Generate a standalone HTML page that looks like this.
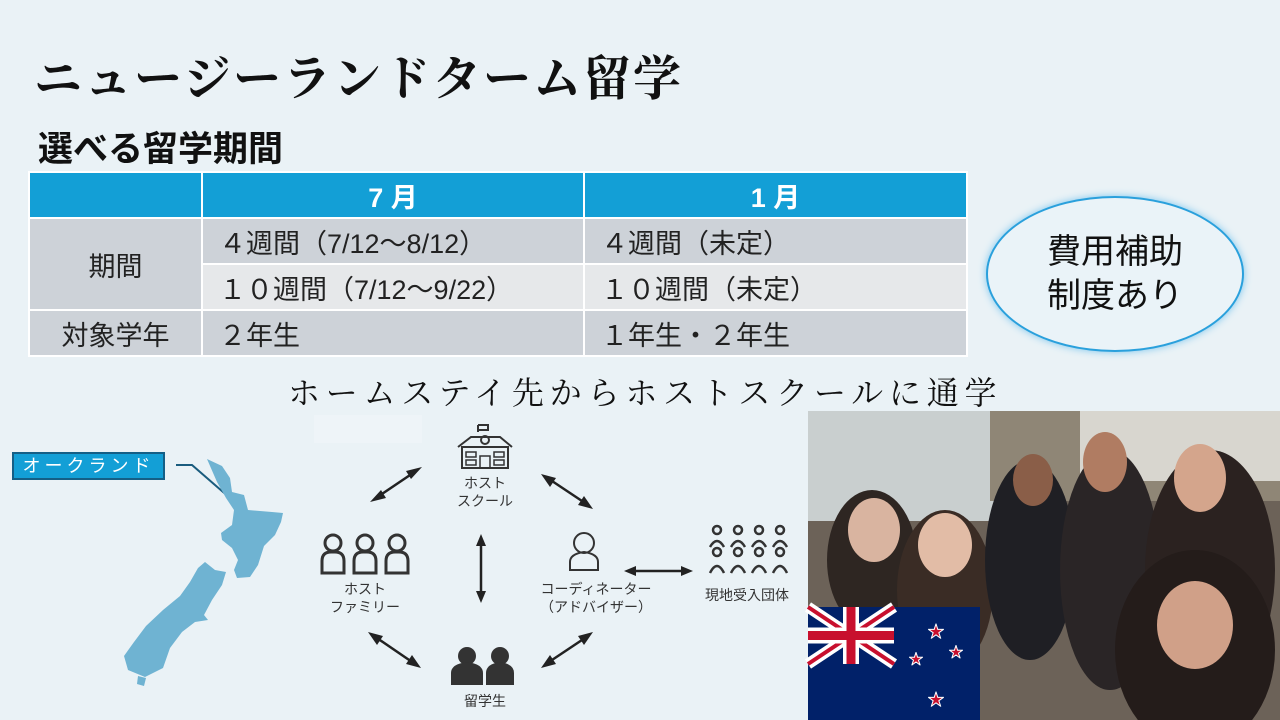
<!DOCTYPE html>
<html><head><meta charset="utf-8"><style>
body{margin:0;width:1280px;height:720px;overflow:hidden;background:#eaf2f6;position:relative;font-family:"Liberation Sans","Noto Sans CJK JP",sans-serif;}
.a{position:absolute}
.serif{font-family:"Liberation Serif","Noto Serif CJK SC",serif}
table{position:absolute;left:28px;top:171px;border-collapse:collapse;font-size:27px;color:#222}
td{border:2px solid #fff;padding:0 0 0 16px;height:44px;background:#cdd2d8;white-space:nowrap}
td.h{background:#139fd6;color:#fff;font-weight:bold;text-align:center;padding:0}
td.l{background:#e6e8ea}
td.c{text-align:center;padding:0}
</style></head><body>
<div class="a serif" style="left:34px;top:40px;font-size:48px;font-weight:bold;color:#111;letter-spacing:2px">ニュージーランドターム留学</div>
<div class="a" style="left:38px;top:121px;font-size:35px;font-weight:bold;color:#111">選べる留学期間</div>
<table>
<tr><td class="h" style="width:171px"></td><td class="h" style="width:380px">7 月</td><td class="h" style="width:381px">1 月</td></tr>
<tr><td class="c" rowspan="2">期間</td><td>４週間（7/12～8/12）</td><td>４週間（未定）</td></tr>
<tr><td class="l">１０週間（7/12～9/22）</td><td class="l">１０週間（未定）</td></tr>
<tr><td class="c">対象学年</td><td>２年生</td><td>１年生・２年生</td></tr>
</table>
<div class="a" style="left:986px;top:196px;width:258px;height:156px;border-radius:50%;border:2px solid #2aa0dc;box-shadow:0 0 8px #7cc6ee;background:#eaf3f8;text-align:center;font-size:34px;line-height:44px;color:#111;box-sizing:border-box;padding-top:32px">費用補助<br>制度あり</div>
<div class="a serif" style="left:288px;top:368px;font-size:32px;color:#111;letter-spacing:5.8px">ホームステイ先からホストスクールに通学</div>
<div class="a" style="left:314px;top:415px;width:108px;height:28px;background:#eef4f8"></div>

<div class="a" style="left:12px;top:452px;width:149px;height:24px;background:#139fd6;border:2px solid #145f86;color:#fff;font-size:18px;line-height:24px;text-align:center;letter-spacing:4px" >オークランド</div>
<svg class="a" style="left:0;top:0" width="1280" height="720">
<polyline points="176,465 192,465 238,505" fill="none" stroke="#1a5c7e" stroke-width="2"/>
<polygon fill="#6fb3d2" points="207,459 222,466 230,478 232,492 244,495 248,510 272,512 283,513 281,522 275,535 264,546 258,565 250,577 237,578 234,570 238,560 232,548 222,540 221,533 232,525 234,510 226,498 217,482"/>
<polygon fill="#6fb3d2" points="205,562 215,570 226,572 222,585 212,600 204,615 208,620 195,622 182,632 170,648 163,668 155,672 145,677 128,670 124,656 134,642 146,626 163,610 180,596 190,582 198,568"/>
<polygon fill="#6fb3d2" points="138,676 146,678 144,686 137,684"/>
<g fill="none" stroke="#333" stroke-width="2">
<rect x="462" y="447" width="46" height="21"/><path d="M458 447 L471 437 H500 L512 447 M478 432 V425 M478 425 h10 v5 h-10"/><circle cx="485" cy="440" r="4"/>
<g stroke-width="1.5"><rect x="466" y="452" width="10" height="5"/><rect x="466" y="460" width="10" height="5"/><rect x="494" y="452" width="10" height="5"/><rect x="494" y="460" width="10" height="5"/><rect x="480" y="456" width="10" height="12"/></g>
<g stroke-width="3"><path d="M322 573 v-12 q0-9 9-9 h4 q9 0 9 9 v12z"/><circle cx="333" cy="543" r="8"/><path d="M354 573 v-12 q0-9 9-9 h4 q9 0 9 9 v12z"/><circle cx="365" cy="543" r="8"/><path d="M386 573 v-12 q0-9 9-9 h4 q9 0 9 9 v12z"/><circle cx="397" cy="543" r="8"/></g>
<circle cx="584" cy="543" r="10"/><path d="M570 570 v-8 q0-8 14-10 q14 2 14 10 v8z"/>
<g stroke-width="2.5">
<circle cx="717" cy="530" r="4"/><circle cx="738" cy="530" r="4"/><circle cx="759" cy="530" r="4"/><circle cx="780" cy="530" r="4"/>
<circle cx="717" cy="552" r="4"/><circle cx="738" cy="552" r="4"/><circle cx="759" cy="552" r="4"/><circle cx="780" cy="552" r="4"/>
<path d="M710 547 q7-12 14 0 M731 547 q7-12 14 0 M752 547 q7-12 14 0 M773 547 q7-12 14 0 M710 573 q7-14 14 0 M731 573 q7-14 14 0 M752 573 q7-14 14 0 M773 573 q7-14 14 0"/></g>
</g>
<g fill="#333"><circle cx="467" cy="656" r="9"/><path d="M451 685 v-12 q0-9 16-11 q16 2 16 11 v12z"/><circle cx="500" cy="656" r="9"/><path d="M486 685 v-12 q0-9 14-11 q14 2 14 11 v12z"/></g>
<g stroke="#222" stroke-width="2.5" fill="#222">
<line x1="376" y1="498" x2="416" y2="471"/><line x1="546" y1="477" x2="588" y2="505"/><line x1="481" y1="539" x2="481" y2="598"/><line x1="632" y1="571" x2="688" y2="571"/><line x1="374" y1="636" x2="415" y2="664"/><line x1="546" y1="664" x2="588" y2="636"/>
</g>
<g fill="#222">
<polygon points="370,502 381,490 386,498"/><polygon points="422,467 411,479 406,471"/>
<polygon points="541,474 556,478 550,487"/><polygon points="593,509 578,505 584,496"/>
<polygon points="481,534 476,546 486,546"/><polygon points="481,603 476,591 486,591"/>
<polygon points="624,571 636,566 636,576"/><polygon points="693,571 681,566 681,576"/>
<polygon points="368,632 383,636 377,645"/><polygon points="421,668 406,664 412,655"/>
<polygon points="541,668 550,655 556,664"/><polygon points="593,632 584,645 578,636"/>
</g>
<g font-size="14" fill="#333" text-anchor="middle">
<text x="485" y="488">ホスト</text><text x="485" y="506">スクール</text>
<text x="365" y="594">ホスト</text><text x="365" y="612">ファミリー</text>
<text x="596" y="594">コーディネーター</text><text x="596" y="612">（アドバイザー）</text>
<text x="747" y="600">現地受入団体</text><text x="485" y="706">留学生</text>
</g>
<rect x="808" y="411" width="472" height="309" fill="#6c6258"/>
<rect x="808" y="411" width="190" height="110" fill="#c9cfcf"/>
<rect x="990" y="411" width="290" height="90" fill="#8f8676"/>
<rect x="1080" y="411" width="200" height="70" fill="#d8d6cf"/>
<ellipse cx="872" cy="560" rx="45" ry="70" fill="#2e2622"/><ellipse cx="874" cy="530" rx="26" ry="32" fill="#d9b4a0"/>
<ellipse cx="945" cy="590" rx="48" ry="80" fill="#3a2c25"/><ellipse cx="945" cy="545" rx="27" ry="32" fill="#e2bca6"/>
<ellipse cx="1030" cy="560" rx="45" ry="100" fill="#1f1f24"/><ellipse cx="1033" cy="480" rx="20" ry="26" fill="#8a5e48"/>
<ellipse cx="1110" cy="570" rx="50" ry="120" fill="#2a2526"/><ellipse cx="1105" cy="462" rx="22" ry="30" fill="#b07c62"/>
<ellipse cx="1210" cy="570" rx="65" ry="120" fill="#2b2220"/><ellipse cx="1200" cy="478" rx="26" ry="34" fill="#d4a58c"/>
<ellipse cx="1195" cy="650" rx="80" ry="100" fill="#241c1a"/><ellipse cx="1195" cy="625" rx="38" ry="44" fill="#d0a088"/>
<rect x="808" y="607" width="172" height="113" fill="#012169"/>
<g>
<path d="M808 607 L894 664 M894 607 L808 664" stroke="#fff" stroke-width="11"/>
<path d="M808 607 L894 664 M894 607 L808 664" stroke="#c8102e" stroke-width="4"/>
<path d="M851 607 V664 M808 635.5 H894" stroke="#fff" stroke-width="16"/>
<path d="M851 607 V664 M808 635.5 H894" stroke="#c8102e" stroke-width="9"/>
</g>
<g fill="#c8102e" stroke="#fff" stroke-width="1">
<text x="936" y="637" font-size="16" text-anchor="middle">★</text>
<text x="916" y="664" font-size="14" text-anchor="middle">★</text>
<text x="956" y="657" font-size="14" text-anchor="middle">★</text>
<text x="936" y="705" font-size="16" text-anchor="middle">★</text>
</g>
</svg>
</body></html>
